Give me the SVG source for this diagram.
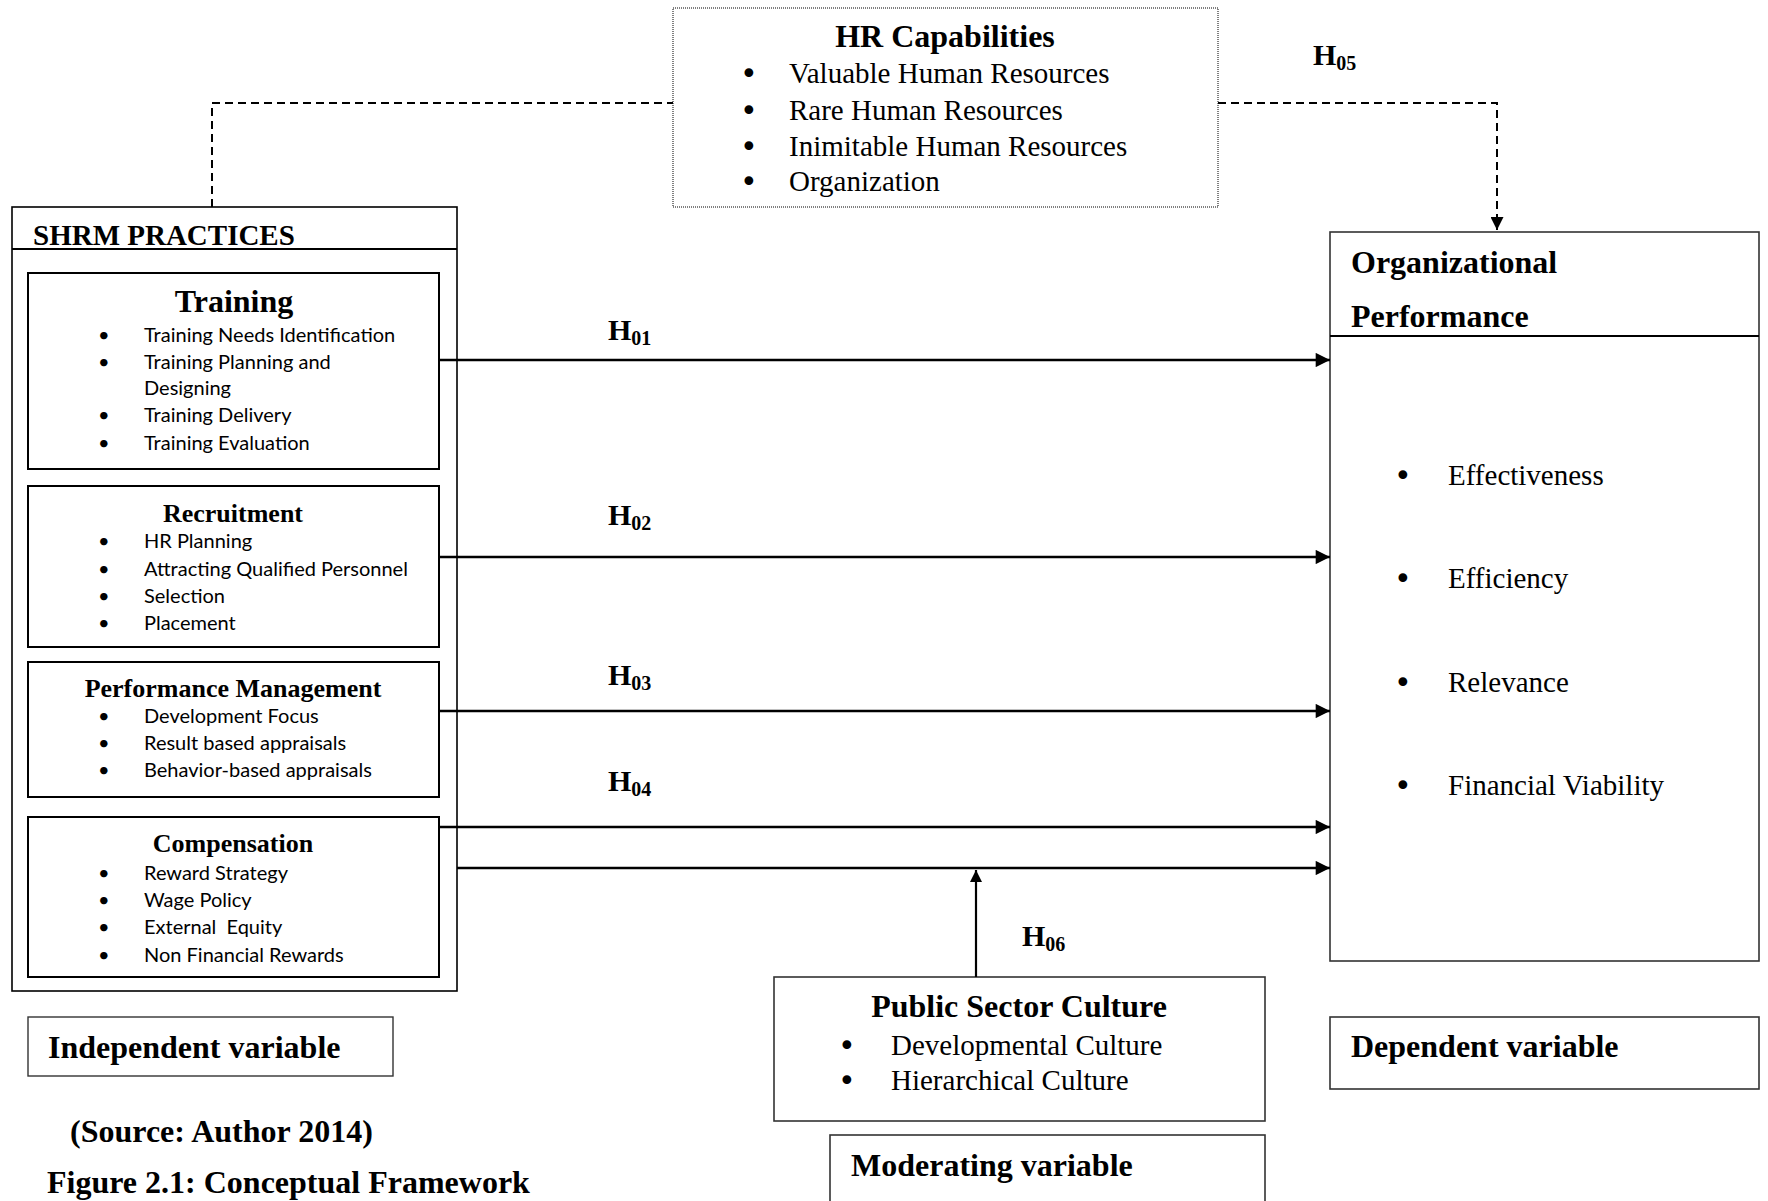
<svg xmlns="http://www.w3.org/2000/svg" width="1768" height="1201" viewBox="0 0 1768 1201">
<defs>
<style>
.serif{font-family:"Liberation Serif","Times New Roman",serif;fill:#000}
.b{font-weight:bold}
.head{font-size:32px;font-weight:bold}
.sub{font-size:26px;font-weight:bold}
.item{font-family:Lato,"Open Sans",sans-serif;font-size:20px;fill:#000}
.tli{font-size:29px}
.bul{font-family:"DejaVu Sans",sans-serif;font-size:30px}
.box{fill:#fff;stroke:#000;stroke-width:2}
.box2{fill:#fff;stroke:#333;stroke-width:1.6}
.conn{stroke:#000;stroke-width:2.6;fill:none}
.dash{stroke:#000;stroke-width:2;fill:none;stroke-dasharray:8 5}
.hl{font-family:"Liberation Serif","Times New Roman",serif;font-weight:bold;font-size:30px;fill:#000}
.hs{font-size:20px}
</style>
<marker id="ah" viewBox="0 0 10 10" refX="10" refY="5" markerWidth="6.5" markerHeight="5.5" markerUnits="strokeWidth" orient="auto">
<path d="M0,0 L10,5 L0,10 z" fill="#000"/>
</marker>
<marker id="ahd" viewBox="0 0 10 10" refX="10" refY="5" markerWidth="7.5" markerHeight="6.5" markerUnits="strokeWidth" orient="auto">
<path d="M0,0 L10,5 L0,10 z" fill="#000"/>
</marker>
</defs>
<rect width="1768" height="1201" fill="#fff"/>

<g id="hr-capabilities">
<rect x="673" y="8" width="545" height="199" fill="#fff" stroke="#000" stroke-width="1" stroke-dasharray="1 1"/>
<text class="serif head" x="945" y="47" text-anchor="middle">HR Capabilities</text>
<g class="serif tli">
<text class="bul" x="740" y="84">•</text><text x="789" y="83">Valuable Human Resources</text>
<text class="bul" x="740" y="121">•</text><text x="789" y="120">Rare Human Resources</text>
<text class="bul" x="740" y="157">•</text><text x="789" y="156">Inimitable Human Resources</text>
<text class="bul" x="740" y="192">•</text><text x="789" y="191">Organization</text>
</g>
</g>

<g id="shrm-practices">
<rect x="12" y="207" width="445" height="784" fill="#fff" stroke="#000" stroke-width="1.6"/>
<line x1="12" y1="249" x2="457" y2="249" stroke="#000" stroke-width="2"/>
<text class="serif b" x="33" y="245" font-size="29">SHRM PRACTICES</text>
</g>

<g id="training">
<rect class="box" x="28" y="273" width="411" height="196"/>
<text class="serif head" x="234" y="312" text-anchor="middle">Training</text>
<g class="item">
<text x="98" y="342">•</text><text x="144" y="342">Training Needs Identification</text>
<text x="98" y="369">•</text><text x="144" y="369">Training Planning and</text>
<text x="144" y="395">Designing</text>
<text x="98" y="422">•</text><text x="144" y="422">Training Delivery</text>
<text x="98" y="450">•</text><text x="144" y="450">Training Evaluation</text>
</g>
</g>

<g id="recruitment">
<rect class="box" x="28" y="486" width="411" height="161"/>
<text class="serif sub" x="233" y="522" text-anchor="middle">Recruitment</text>
<g class="item">
<text x="98" y="548">•</text><text x="144" y="548">HR Planning</text>
<text x="98" y="576">•</text><text x="144" y="576">Attracting Qualified Personnel</text>
<text x="98" y="603">•</text><text x="144" y="603">Selection</text>
<text x="98" y="630">•</text><text x="144" y="630">Placement</text>
</g>
</g>

<g id="performance-management">
<rect class="box" x="28" y="662" width="411" height="135"/>
<text class="serif sub" x="233" y="697" text-anchor="middle">Performance Management</text>
<g class="item">
<text x="98" y="723">•</text><text x="144" y="723">Development Focus</text>
<text x="98" y="750">•</text><text x="144" y="750">Result based appraisals</text>
<text x="98" y="777">•</text><text x="144" y="777">Behavior-based appraisals</text>
</g>
</g>

<g id="compensation">
<rect class="box" x="28" y="817" width="411" height="160"/>
<text class="serif sub" x="233" y="852" text-anchor="middle">Compensation</text>
<g class="item">
<text x="98" y="880">•</text><text x="144" y="880">Reward Strategy</text>
<text x="98" y="907">•</text><text x="144" y="907">Wage Policy</text>
<text x="98" y="934">•</text><text x="144" y="934" xml:space="preserve">External  Equity</text>
<text x="98" y="962">•</text><text x="144" y="962">Non Financial Rewards</text>
</g>
</g>

<g id="independent-variable">
<rect x="28" y="1017" width="365" height="59" fill="#fff" stroke="#333" stroke-width="1.4"/>
<text class="serif head" x="48" y="1058">Independent variable</text>
</g>

<g id="organizational-performance">
<rect class="box2" x="1330" y="232" width="429" height="729"/>
<line x1="1330" y1="336" x2="1759" y2="336" stroke="#000" stroke-width="2"/>
<text class="serif head" x="1351" y="273">Organizational</text>
<text class="serif head" x="1351" y="327">Performance</text>
<g class="serif tli">
<text class="bul" x="1394" y="486">•</text><text x="1448" y="485">Effectiveness</text>
<text class="bul" x="1394" y="589">•</text><text x="1448" y="588">Efficiency</text>
<text class="bul" x="1394" y="693">•</text><text x="1448" y="692">Relevance</text>
<text class="bul" x="1394" y="796">•</text><text x="1448" y="795">Financial Viability</text>
</g>
</g>

<g id="dependent-variable">
<rect class="box2" x="1330" y="1017" width="429" height="72"/>
<text class="serif head" x="1351" y="1057">Dependent variable</text>
</g>

<g id="public-sector-culture">
<rect class="box2" x="774" y="977" width="491" height="144"/>
<text class="serif head" x="1019" y="1017" text-anchor="middle">Public Sector Culture</text>
<g class="serif tli">
<text class="bul" x="838" y="1056">•</text><text x="891" y="1055">Developmental Culture</text>
<text class="bul" x="838" y="1091">•</text><text x="891" y="1090">Hierarchical Culture</text>
</g>
</g>

<g id="moderating-variable">
<rect class="box2" x="830" y="1135" width="435" height="80"/>
<text class="serif head" x="851" y="1176">Moderating variable</text>
</g>

<g id="caption">
<text class="serif head" x="70" y="1142">(Source: Author 2014)</text>
<text class="serif head" x="47" y="1193">Figure 2.1: Conceptual Framework</text>
</g>

<g id="connectors">
<path class="dash" d="M212,207 V103 H673"/>
<path class="dash" d="M1218,103 H1497 V230" marker-end="url(#ahd)"/>
<line class="conn" x1="439" y1="360" x2="1330" y2="360" marker-end="url(#ah)"/>
<line class="conn" x1="439" y1="557" x2="1330" y2="557" marker-end="url(#ah)"/>
<line class="conn" x1="439" y1="711" x2="1330" y2="711" marker-end="url(#ah)"/>
<line class="conn" x1="439" y1="827" x2="1330" y2="827" marker-end="url(#ah)"/>
<line class="conn" x1="457" y1="868" x2="1330" y2="868" marker-end="url(#ah)"/>
<line x1="976" y1="977" x2="976" y2="870" stroke="#000" stroke-width="2.2" marker-end="url(#ah)"/>
<text class="hl" x="608" y="340">H<tspan class="hs" dy="5">01</tspan></text>
<text class="hl" x="608" y="525">H<tspan class="hs" dy="5">02</tspan></text>
<text class="hl" x="608" y="685">H<tspan class="hs" dy="5">03</tspan></text>
<text class="hl" x="608" y="791">H<tspan class="hs" dy="5">04</tspan></text>
<text class="hl" x="1313" y="65">H<tspan class="hs" dy="5">05</tspan></text>
<text class="hl" x="1022" y="946">H<tspan class="hs" dy="5">06</tspan></text>
</g>
</svg>
